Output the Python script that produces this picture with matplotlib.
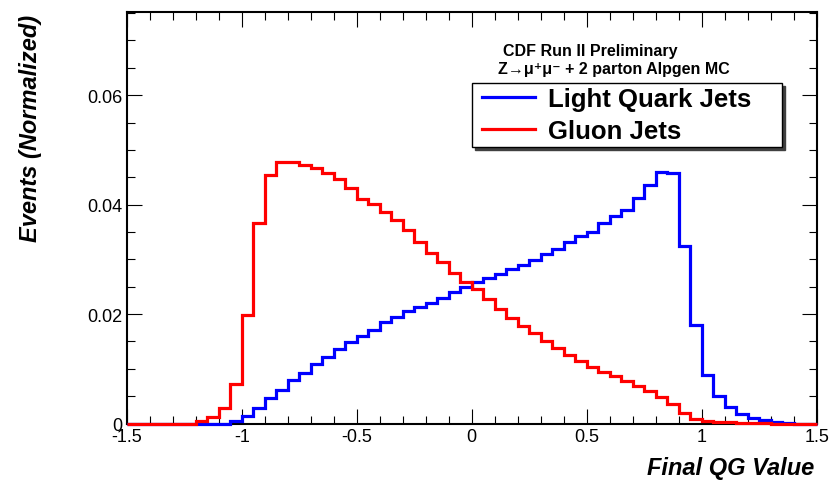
import numpy as np
import matplotlib
matplotlib.use('Agg')
import matplotlib.pyplot as plt
from matplotlib.lines import Line2D
from matplotlib.legend_handler import HandlerLine2D
from matplotlib.ticker import MultipleLocator

plt.rcParams['font.family'] = ['Liberation Sans', 'DejaVu Sans']
plt.rcParams['axes.unicode_minus'] = False

# --- data (60 bins of 0.05 from -1.5 to 1.5) ---
bin_edges = np.linspace(-1.5, 1.5, 61)

light_quark = [
    0, 0, 0, 0, 0, 0, 0, 0, 0, 0.0004,
    0.0013, 0.0029, 0.0047, 0.0062, 0.0079, 0.0092, 0.0109, 0.0122, 0.0136, 0.0149,
    0.0160, 0.0171, 0.0186, 0.0195, 0.0206, 0.0213, 0.0221, 0.0230, 0.0241, 0.0250,
    0.0259, 0.0265, 0.0274, 0.0282, 0.0290, 0.0299, 0.0309, 0.0318, 0.0331, 0.0342,
    0.0350, 0.0366, 0.0380, 0.0390, 0.0413, 0.0435, 0.0459, 0.0457, 0.0325, 0.0180,
    0.0089, 0.0050, 0.0030, 0.0018, 0.0010, 0.0006, 0.0002, 0.0001, 0, 0,
]

gluon = [
    0, 0, 0, 0, 0, 0, 0.0004, 0.0011, 0.0029, 0.0073,
    0.0198, 0.0367, 0.0455, 0.0477, 0.0477, 0.0473, 0.0467, 0.0458, 0.0446, 0.0430,
    0.0411, 0.0401, 0.0386, 0.0371, 0.0353, 0.0331, 0.0311, 0.0295, 0.0275, 0.0259,
    0.0245, 0.0227, 0.0210, 0.0193, 0.0178, 0.0165, 0.0151, 0.0138, 0.0126, 0.0114,
    0.0104, 0.0095, 0.0086, 0.0077, 0.0068, 0.0059, 0.0049, 0.0036, 0.0019, 0.0009,
    0.0004, 0.0002, 0.0002, 0.0001, 0.0001, 0.0001, 0, 0, 0, 0,
]

x_ticks = [-1.5, -1, -0.5, 0, 0.5, 1, 1.5]
x_tick_labels = ['-1.5', '-1', '-0.5', '0', '0.5', '1', '1.5']
y_ticks = [0, 0.02, 0.04, 0.06]
y_tick_labels = ['0', '0.02', '0.04', '0.06']

series_names = ['Light Quark Jets', 'Gluon Jets']
series_colors = ['#0000ff', '#ff0000']

# --- figure ---
fig = plt.figure(figsize=(8.3, 4.85), dpi=100)
ax = fig.add_axes([126.7 / 830, 1 - 424.5 / 485, 690 / 830, 411.5 / 485])

ax.stairs(light_quark, bin_edges, color=series_colors[0], lw=2.3, baseline=0,
          clip_on=False, zorder=3)
ax.stairs(gluon, bin_edges, color=series_colors[1], lw=2.3, baseline=0,
          clip_on=False, zorder=3)

ax.set_xlim(-1.5, 1.5)
ax.set_ylim(0, 0.0752)
ax.set_xticks(x_ticks, x_tick_labels)
ax.set_yticks(y_ticks, y_tick_labels)
ax.xaxis.set_minor_locator(MultipleLocator(0.1))
ax.yaxis.set_minor_locator(MultipleLocator(0.005))
ax.tick_params(which='both', direction='in', top=True, right=True, width=0.8, color='black')
ax.tick_params(which='major', length=11, labelsize=13, pad=3)
ax.tick_params(which='minor', length=5.5)
for sp in ax.spines.values():
    sp.set_linewidth(1.5)

ax.set_xlabel('Final QG Value', fontsize=17, fontweight='bold', fontstyle='italic',
              ha='right', va='center')
ax.xaxis.set_label_coords(0.997, -0.106)
ax.set_ylabel('Events (Normalized)', fontsize=17, fontweight='bold', fontstyle='italic',
              ha='right', va='center')
ax.yaxis.set_label_coords(-0.139, 0.995)

fig.text(503 / 830, 1 - 51.7 / 485, 'CDF Run II Preliminary', fontsize=11.5,
         fontweight='bold', va='center', ha='left')
fig.text(498 / 830, 1 - 70 / 485, 'Z\u2192\u03bc\u207a\u03bc\u207b + 2 parton Alpgen MC', fontsize=11.5,
         fontweight='bold', va='center', ha='left')

handles = [Line2D([], [], color=c, lw=2.3) for c in series_colors]
leg = ax.legend(handles, series_names, loc='upper left',
                bbox_to_anchor=(0.501, 0.6712, 0.4484, 0.1563),
                mode='expand', borderaxespad=0,
                prop={'weight': 'bold', 'size': 18.5},
                handler_map={Line2D: HandlerLine2D(marker_pad=0.22, numpoints=2)},
                handlelength=2.5, handletextpad=0.3, labelspacing=0.31,
                borderpad=0.16, fancybox=False, edgecolor='black', framealpha=1,
                shadow={'color': '0.25', 'alpha': 1})
leg.get_frame().set_linewidth(1.0)

fig.savefig('out.png', dpi=100, facecolor='white')
